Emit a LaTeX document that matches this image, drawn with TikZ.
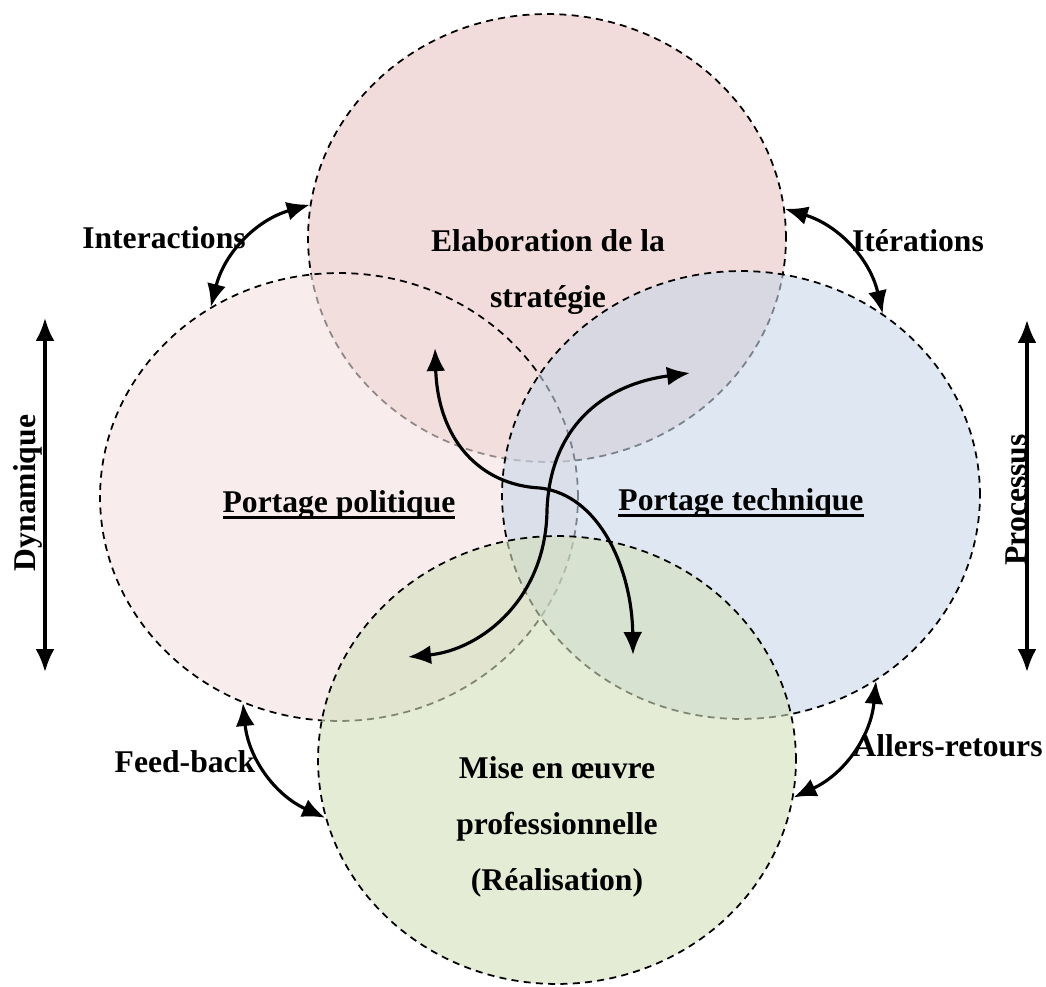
\documentclass[tikz,border=0pt]{standalone}
\usepackage{fontspec}
\setmainfont{Liberation Serif}
\usepackage{tikz}
\usetikzlibrary{calc,positioning,arrows.meta,shapes.geometric}
\definecolor{colElab}{RGB}{233,197,195}
\definecolor{colPol}{RGB}{243,225,223}
\definecolor{colTech}{RGB}{200,215,233}
\definecolor{colReal}{RGB}{210,223,187}
\newsavebox{\soulbox}
\newcommand{\souligne}[1]{\sbox{\soulbox}{#1}\rlap{\usebox{\soulbox}}\rule[-4pt]{\wd\soulbox}{1.6pt}}
\tikzset{
mycircle/.style={
  ellipse,
  draw,
  line width=1pt,
  dash pattern=on 4pt off 3pt,
  minimum width=9.56cm,
  minimum height=8.96cm,
  inner sep=0pt,
  fill=#1,
  fill opacity=0.6
  },
mytext/.style={
  font=\bfseries\fontsize{18}{32}\selectfont,
  align=center,
  inner sep=0pt
  },
myarrow/.style={
  <->,
  line width=1.8pt
  }
}

\begin{document}
\begin{tikzpicture}[x=0.02cm,y=-0.02cm,>={Latex[length=4.6mm,width=3.8mm]}]
            \useasboundingbox (0,0) rectangle (1046,987);
            % les quatre cercles
            \node[mycircle=colElab] (elab) at (547,238) {};
            \node[mycircle=colPol] (pol) at (339,497) {};
            \node[mycircle=colTech] (tech) at (741,495) {};
            \node[mycircle=colReal] (real) at (557,760) {};
            % textes
            \node[mytext] (telab) at (548,272) {Elaboration de la\\stratégie};
            \node[mytext,anchor=base] (tpol) at (339,512) {\souligne{Portage politique}};
            \node[mytext,anchor=base] (ttech) at (741,510) {\souligne{Portage technique}};
            \node[mytext] (treal) at (557,827) {Mise en œuvre\\professionnelle\\(Réalisation)};
            \node[mytext] (inter) at (164,238) {Interactions};
            \node[mytext] (iter) at (918,241) {Itérations};
            \node[mytext] (feed) at (185,762) {Feed-back};
            \node[mytext] (aller) at (948,746) {Allers-retours};
            \node[mytext,rotate=90] (dyn) at (28,493) {Dynamique};
            \node[mytext,rotate=90] (proc) at (1016,500) {Processus};
            % fleches entre cercles
            \draw[myarrow] (elab.172) to[bend right=30] (pol.124);
            \draw[myarrow] (elab.7) to[bend left=30] (tech.52);
            \draw[myarrow] (pol.245) to[bend right=30] (real.194);
            \draw[myarrow] (tech.306) to[bend left=30] (real.351);
            % fleches verticales
            \coordinate (dyntop) at (45,318);
            \coordinate (dynbot) at (45,672);
            \coordinate (proctop) at (1027,320);
            \coordinate (procbot) at (1027,672);
            \draw[myarrow] (dyntop) -- (dynbot);
            \draw[myarrow] (proctop) -- (procbot);
            % fleches centrales
            \coordinate (c1a) at (435,348);
            \coordinate (c1m) at (540,488);
            \coordinate (c1b) at (633,655);
            \coordinate (c2a) at (690,373);
            \coordinate (c2m) at (547,510);
            \coordinate (c2b) at (408,657);
            \draw[myarrow] (c1a) .. controls (438,440) and (480,485) .. (c1m)
                .. controls (600,495) and (632,570) .. (c1b);
            \draw[myarrow] (c2a) .. controls (600,385) and (550,430) .. (c2m)
                .. controls (546,600) and (480,650) .. (c2b);
        \end{tikzpicture}
\end{document}
